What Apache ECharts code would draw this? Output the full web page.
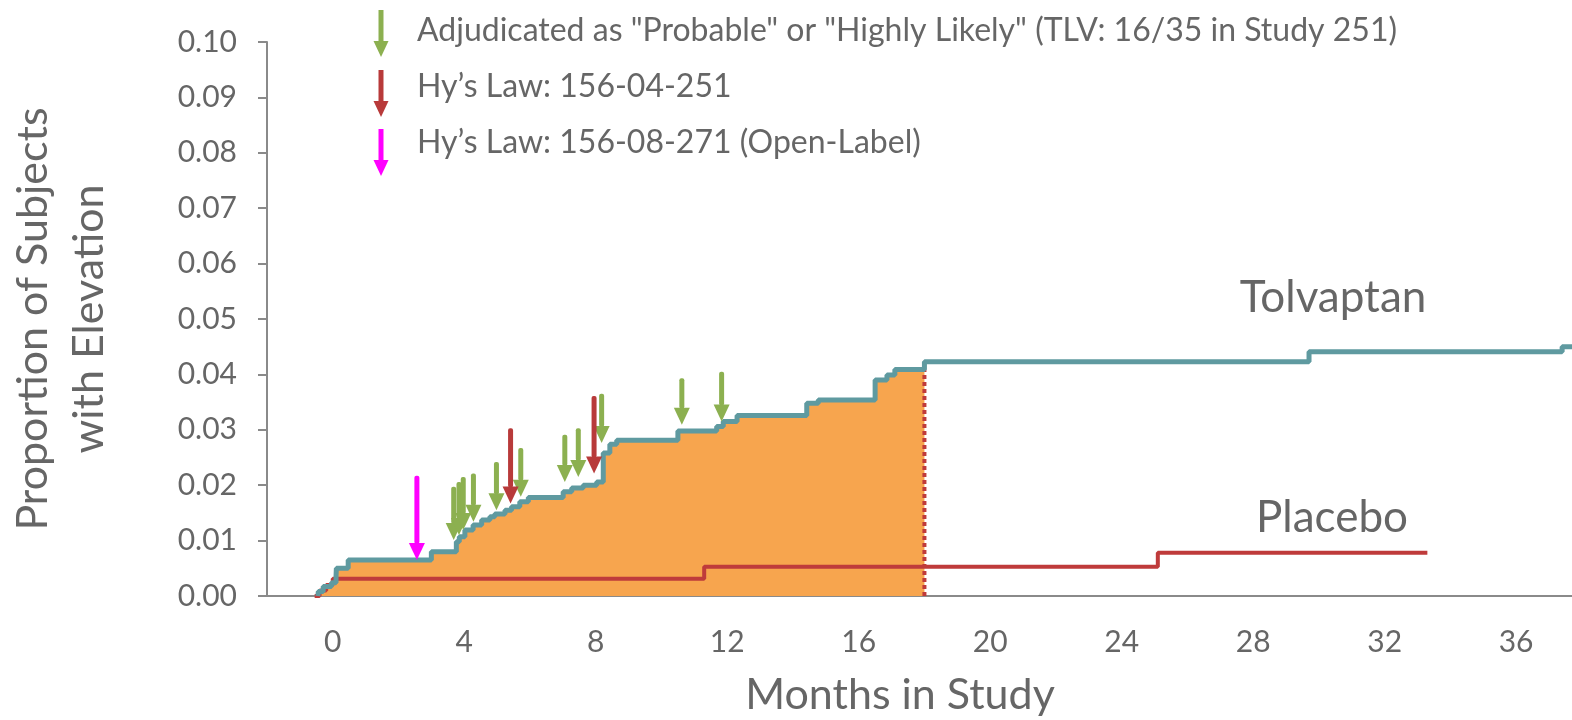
<!DOCTYPE html>
<html>
<head>
<meta charset="utf-8">
<script src="https://cdn.jsdelivr.net/npm/echarts@6/dist/echarts.min.js"></script>
<style>
  html, body { margin: 0; padding: 0; background: #ffffff; }
  #chart { width: 1572px; height: 720px; }
</style>
</head>
<body>
<div id="chart"></div>
<script>
// Cumulative proportion of subjects with elevation, [month, proportion]
const tolvaptan = [
  [-0.45, 0], [-0.44, 0.0008], [-0.29, 0.0017], [-0.04, 0.0024], [0.10, 0.0036], [0.11, 0.005], [0.47, 0.0065],
  [3.00, 0.008], [3.76, 0.0098], [3.85, 0.0107], [4.02, 0.0119], [4.27, 0.0128], [4.53, 0.0137], [4.78, 0.0143],
  [4.93, 0.0148], [5.24, 0.0155], [5.44, 0.0161], [5.69, 0.017], [5.95, 0.0178],
  [7.01, 0.0188], [7.27, 0.0195], [7.62, 0.0200], [8.03, 0.0206], [8.23, 0.0258], [8.43, 0.0274], [8.64, 0.0281],
  [10.50, 0.0298], [11.68, 0.0306], [11.88, 0.0315], [12.30, 0.0326], [14.42, 0.0348], [14.77, 0.0354],
  [16.50, 0.0390], [16.86, 0.0399], [17.10, 0.0409], [18.00, 0.0423], [29.70, 0.0441], [37.40, 0.0450], [37.70, 0.0450]
];
const placebo = [
  [-0.55, 0], [-0.40, 0.001], [-0.20, 0.002], [0, 0.0031], [11.30, 0.0053], [25.10, 0.0078], [33.30, 0.0078]
];
// End of the double-blind period (shaded area ends here)
const blindEnd = 18.0;

// Arrows: [month, top of arrow, tip of arrow]
const adjudicatedArrows = [
  [3.68, 0.0197, 0.0101], [3.84, 0.0206, 0.0110], [3.97, 0.0215, 0.0119], [4.28, 0.0221, 0.0134],
  [4.98, 0.0242, 0.0155], [5.72, 0.0267, 0.0179], [7.06, 0.0291, 0.0206], [7.47, 0.0303, 0.0215],
  [8.18, 0.0365, 0.0276], [10.62, 0.0393, 0.0309], [11.83, 0.0405, 0.0315]
];
const hysLawArrows = [
  [5.41, 0.0303, 0.0167], [7.95, 0.0361, 0.0221]
];
const openLabelArrows = [
  [2.56, 0.0217, 0.0065]
];

const xTickLabels = [0, 4, 8, 12, 16, 20, 24, 28, 32, 36];
const yTickLabels = ['0.00', '0.01', '0.02', '0.03', '0.04', '0.05', '0.06', '0.07', '0.08', '0.09', '0.10'];

const legendItems = [
  'Adjudicated as "Probable" or "Highly Likely" (TLV: 16/35 in Study 251)',
  'Hy\u2019s Law: 156-04-251',
  'Hy\u2019s Law: 156-08-271 (Open-Label)'
];

const FONT = 'Lato, "Open Sans", sans-serif';
const TEXT = '#666666';
const AXIS = '#8a8a8a';
const C_TLV = '#5f9aa0';
const C_PBO = '#bf3b3b';
const C_FILL = '#f7a54e';
const C_GREEN = '#8cb050';
const C_RED = '#b83a3a';
const C_MAGENTA = '#ff00ff';

// Shaded region: tolvaptan curve up to the end of the blind period
const fillData = tolvaptan.filter(p => p[0] < blindEnd);
fillData.push([blindEnd, fillData[fillData.length - 1][1]]);

function arrowSeries(name, data, color) {
  return {
    name: name,
    type: 'custom',
    z: 10,
    data: data,
    renderItem: function (params, api) {
      const top = api.coord([api.value(0), api.value(1)]);
      const tip = api.coord([api.value(0), api.value(2)]);
      const headH = 17, headW = 16, shaftW = 5;
      return {
        type: 'group',
        children: [
          { type: 'rect', shape: { x: top[0] - shaftW / 2, y: top[1], width: shaftW, height: tip[1] - headH - top[1] + 1, r: 2 },
            style: { fill: color } },
          { type: 'polygon', shape: { points: [[tip[0] - headW / 2, tip[1] - headH], [tip[0] + headW / 2, tip[1] - headH], [tip[0], tip[1]]] },
            style: { fill: color } }
        ]
      };
    }
  };
}

function legendArrow(x, yTop, yTip, color) {
  const headH = 16, headW = 15, shaftW = 5;
  return {
    type: 'group',
    children: [
      { type: 'rect', shape: { x: x - shaftW / 2, y: yTop, width: shaftW, height: yTip - headH - yTop + 1 }, style: { fill: color } },
      { type: 'polygon', shape: { points: [[x - headW / 2, yTip - headH], [x + headW / 2, yTip - headH], [x, yTip]] }, style: { fill: color } }
    ]
  };
}

const chart = echarts.init(document.getElementById('chart'), null, { renderer: 'canvas' });

chart.setOption({
  backgroundColor: '#ffffff',
  animation: false,
  grid: { left: 267, right: 0, top: 42, bottom: 124, containLabel: false, outerBoundsMode: 'none' },
  xAxis: {
    type: 'value',
    min: -2,
    max: 37.7,
    interval: 2,
    axisLine: { show: true, onZero: false, lineStyle: { color: AXIS, width: 2 } },
    axisTick: { show: false },
    splitLine: { show: false },
    axisLabel: {
      margin: 31,
      color: TEXT,
      fontFamily: FONT,
      fontSize: 30,
      formatter: function (v) { return xTickLabels.indexOf(v) >= 0 ? String(v) : ''; }
    }
  },
  yAxis: {
    type: 'value',
    min: 0,
    max: 0.1,
    interval: 0.01,
    name: 'Proportion of Subjects\nwith Elevation',
    nameLocation: 'middle',
    nameGap: 150,
    nameRotate: 90,
    nameTextStyle: { color: TEXT, fontFamily: FONT, fontSize: 43, lineHeight: 56 },
    axisLine: { show: true, onZero: false, lineStyle: { color: AXIS, width: 2 } },
    axisTick: { show: true, length: 9, lineStyle: { color: AXIS, width: 2 } },
    splitLine: { show: false },
    axisLabel: {
      margin: 30,
      color: TEXT,
      fontFamily: FONT,
      fontSize: 30,
      formatter: function (v) { return yTickLabels[Math.round(v * 100)]; }
    }
  },
  series: [
    {
      name: 'Blind period',
      type: 'line',
      step: 'end',
      data: fillData,
      symbol: 'none',
      lineStyle: { width: 0 },
      areaStyle: { color: C_FILL, opacity: 1 },
      z: 1
    },
    {
      name: 'End of blind period',
      type: 'line',
      data: [[blindEnd, 0], [blindEnd, fillData[fillData.length - 1][1]]],
      symbol: 'none',
      lineStyle: { color: C_PBO, width: 4, type: [4, 3] },
      z: 2
    },
    {
      name: 'Placebo',
      type: 'line',
      step: 'end',
      data: placebo,
      symbol: 'none',
      lineStyle: { color: C_PBO, width: 4 },
      z: 3
    },
    {
      name: 'Tolvaptan',
      type: 'line',
      step: 'end',
      data: tolvaptan,
      symbol: 'none',
      lineStyle: { color: C_TLV, width: 5 },
      z: 4
    },
    arrowSeries('Adjudicated', adjudicatedArrows, C_GREEN),
    arrowSeries('Hy\u2019s Law', hysLawArrows, C_RED),
    arrowSeries('Hy\u2019s Law (Open-Label)', openLabelArrows, C_MAGENTA)
  ],
  graphic: [
    legendArrow(381, 10, 57, C_GREEN),
    legendArrow(381, 70, 117, C_RED),
    legendArrow(381, 129, 176, C_MAGENTA),
    { type: 'text', x: 417, y: 31, style: { text: legendItems[0], fill: TEXT, font: '32px ' + FONT, textVerticalAlign: 'middle' } },
    { type: 'text', x: 417, y: 87, style: { text: legendItems[1], fill: TEXT, font: '32px ' + FONT, textVerticalAlign: 'middle' } },
    { type: 'text', x: 417, y: 143, style: { text: legendItems[2], fill: TEXT, font: '32px ' + FONT, textVerticalAlign: 'middle' } },
    { type: 'text', x: 1333, y: 298, style: { text: 'Tolvaptan', fill: TEXT, font: '44px ' + FONT, textAlign: 'center', textVerticalAlign: 'middle' } },
    { type: 'text', x: 1332, y: 518, style: { text: 'Placebo', fill: TEXT, font: '44px ' + FONT, textAlign: 'center', textVerticalAlign: 'middle' } },
    { type: 'text', x: 900, y: 695, style: { text: 'Months in Study', fill: TEXT, font: '43px ' + FONT, textAlign: 'center', textVerticalAlign: 'middle' } }
  ]
});
</script>
</body>
</html>
